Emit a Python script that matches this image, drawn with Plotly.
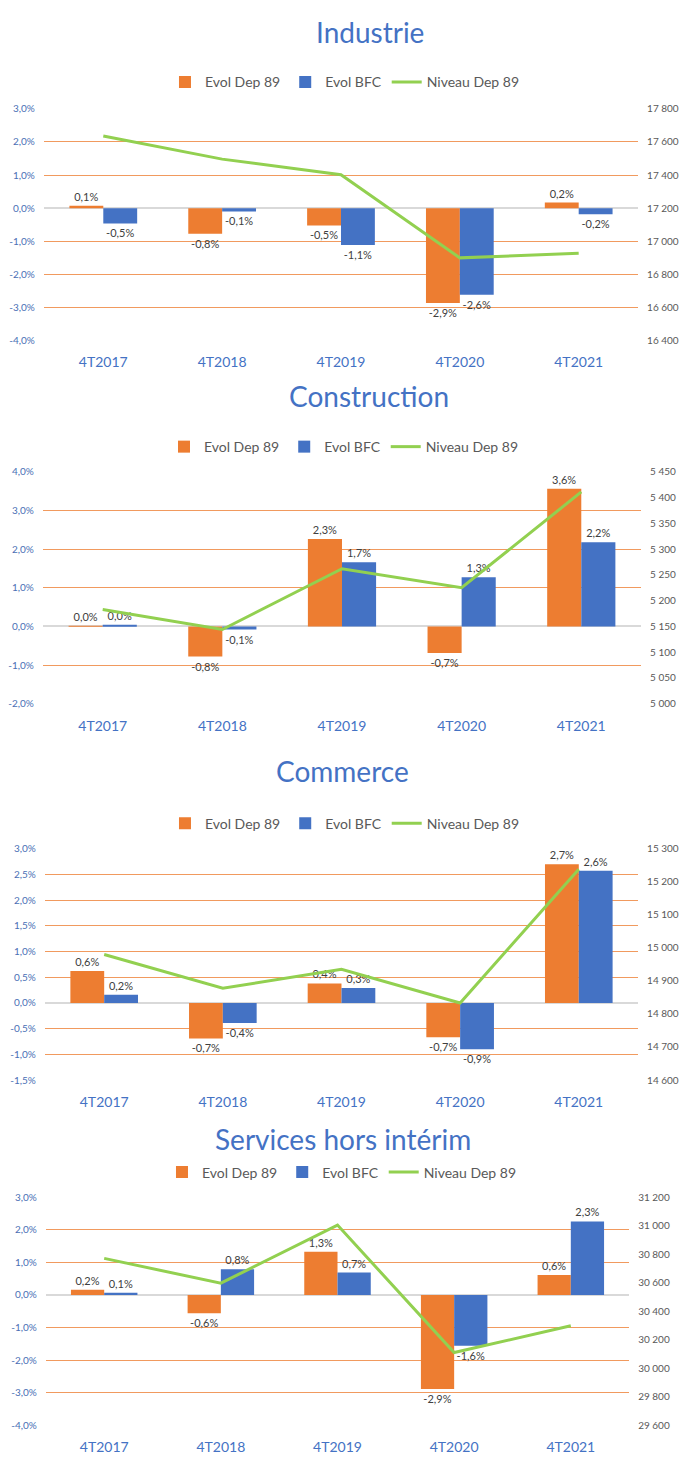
import plotly.graph_objects as go

# ---------------- data ----------------
categories = ["4T2017", "4T2018", "4T2019", "4T2020", "4T2021"]
titles = ["Industrie", "Construction", "Commerce", "Services hors intérim"]
series_names = ["Evol Dep 89", "Evol BFC", "Niveau Dep 89"]

industrie_dep89 = [0.07, -0.77, -0.52, -2.86, 0.17]
industrie_bfc = [-0.46, -0.10, -1.11, -2.61, -0.18]
industrie_niveau = [17636, 17496, 17402, 16900, 16928]

construction_dep89 = [0.003, -0.78, 2.26, -0.69, 3.56]
construction_bfc = [0.02, -0.08, 1.66, 1.27, 2.18]
construction_niveau = [5183, 5144, 5262, 5225, 5411]

commerce_dep89 = [0.62, -0.69, 0.38, -0.67, 2.70]
commerce_bfc = [0.16, -0.39, 0.29, -0.90, 2.57]
commerce_niveau = [14980, 14878, 14935, 14833, 15238]

services_dep89 = [0.16, -0.56, 1.33, -2.89, 0.61]
services_bfc = [0.07, 0.79, 0.69, -1.56, 2.26]
services_niveau = [30771, 30597, 31005, 30110, 30298]

industrie_pct_ticks = [-4, -3, -2, -1, 0, 1, 2, 3]
construction_pct_ticks = [-2, -1, 0, 1, 2, 3, 4]
commerce_pct_ticks = [-1.5, -1.0, -0.5, 0, 0.5, 1.0, 1.5, 2.0, 2.5, 3.0]
services_pct_ticks = [-4, -3, -2, -1, 0, 1, 2, 3]

industrie_level_ticks = [16400, 16600, 16800, 17000, 17200, 17400, 17600, 17800]
construction_level_ticks = [5000, 5050, 5100, 5150, 5200, 5250, 5300, 5350, 5400, 5450]
commerce_level_ticks = [14600, 14700, 14800, 14900, 15000, 15100, 15200, 15300]
services_level_ticks = [29600, 29800, 30000, 30200, 30400, 30600, 30800, 31000, 31200]

dep89_all = [industrie_dep89, construction_dep89, commerce_dep89, services_dep89]
bfc_all = [industrie_bfc, construction_bfc, commerce_bfc, services_bfc]
niveau_all = [industrie_niveau, construction_niveau, commerce_niveau, services_niveau]
pct_ticks_all = [industrie_pct_ticks, construction_pct_ticks, commerce_pct_ticks, services_pct_ticks]
level_ticks_all = [industrie_level_ticks, construction_level_ticks, commerce_level_ticks, services_level_ticks]

# ---------------- style / layout ----------------
W, H = 679, 1457
ORANGE = "#ED7D31"
BLUE = "#4472C4"
GREEN = "#92D050"
GRID = "#F19A5E"
FONT = "Lato, 'Open Sans', sans-serif"

# pixel geometry of each panel
geo = [
    dict(x0=44, x1=640, yt=102.7, yb=336.7, title_x=371, title_y=25, leg_x=346, leg_y=76),
    dict(x0=43, x1=643, yt=469.0, yb=703.0, title_x=370, title_y=393, leg_x=345, leg_y=444),
    dict(x0=45, x1=640, yt=849.3, yb=1082.7, title_x=344, title_y=771, leg_x=346, leg_y=824),
    dict(x0=46, x1=631, yt=1201.0, yb=1431.0, title_x=344, title_y=1142, leg_x=343, leg_y=1176),
]


def pct_label(v):
    return f"{v:.1f}".replace(".", ",") + "%"


def level_label(v):
    return f"{v:,}".replace(",", " ")


fig = go.Figure()
layout = dict(
    width=W, height=H, margin=dict(l=0, r=0, t=0, b=0),
    paper_bgcolor="white", plot_bgcolor="white",
    barmode="group", bargap=0.43, bargroupgap=0.0,
    font=dict(family=FONT, color="#595959"),
    annotations=[], showlegend=True,
)

for i in range(4):
    g = geo[i]
    xi = i + 1
    li = 2 * i + 1
    ri = 2 * i + 2
    xref = "x" if xi == 1 else f"x{xi}"
    lref = "y" if li == 1 else f"y{li}"
    rref = f"y{ri}"
    legref = "legend" if xi == 1 else f"legend{xi}"

    fig.add_trace(go.Bar(
        x=categories, y=dep89_all[i], name=series_names[0],
        marker=dict(color=ORANGE, line=dict(width=0)),
        text=[pct_label(v) for v in dep89_all[i]], textposition="outside",
        textangle=0, cliponaxis=False,
        textfont=dict(size=11, color="#404040", family=FONT),
        xaxis=xref, yaxis=lref, legend=legref,
    ))
    fig.add_trace(go.Bar(
        x=categories, y=bfc_all[i], name=series_names[1],
        marker=dict(color=BLUE, line=dict(width=0)),
        text=[pct_label(v) for v in bfc_all[i]], textposition="outside",
        textangle=0, cliponaxis=False,
        textfont=dict(size=11, color="#404040", family=FONT),
        xaxis=xref, yaxis=lref, legend=legref,
    ))
    fig.add_trace(go.Scatter(
        x=categories, y=niveau_all[i], name=series_names[2], mode="lines",
        line=dict(color=GREEN, width=3),
        xaxis=xref, yaxis=rref, legend=legref,
    ))

    xdom = [g["x0"] / W, g["x1"] / W]
    ydom = [1 - g["yb"] / H, 1 - g["yt"] / H]
    pt = pct_ticks_all[i]
    lt = level_ticks_all[i]

    layout["xaxis" if xi == 1 else f"xaxis{xi}"] = dict(
        domain=xdom, anchor=lref, type="category",
        showgrid=False, zeroline=False, showline=False,
        ticks="outside", ticklen=9, tickcolor="rgba(0,0,0,0)",
        tickfont=dict(size=14, color=BLUE, family=FONT),
    )
    layout["yaxis" if li == 1 else f"yaxis{li}"] = dict(
        domain=ydom, anchor=xref, range=[pt[0], pt[-1]],
        tickvals=pt, ticktext=[pct_label(v) for v in pt],
        showgrid=True, gridcolor=GRID, gridwidth=1.2,
        zeroline=True, zerolinecolor="#D9D9D9", zerolinewidth=1.5,
        showline=False, ticks="outside", ticklen=6, tickcolor="rgba(0,0,0,0)",
        tickfont=dict(size=10, color="#4A6FB5", family=FONT),
    )
    layout[f"yaxis{ri}"] = dict(
        overlaying=lref, side="right", anchor=xref,
        range=[lt[0], lt[-1]], tickvals=lt, ticktext=[level_label(v) for v in lt],
        showgrid=False, zeroline=False, showline=False,
        ticks="outside", ticklen=6, tickcolor="rgba(0,0,0,0)",
        tickfont=dict(size=10, color="#595959", family=FONT),
    )
    layout[legref] = dict(
        orientation="h", x=g["leg_x"] / W, xanchor="center",
        y=1 - g["leg_y"] / H, yanchor="middle",
        font=dict(size=14, color="#595959", family=FONT),
        bgcolor="rgba(0,0,0,0)", itemwidth=30, tracegroupgap=0,
    )
    layout["annotations"].append(dict(
        text=titles[i], xref="paper", yref="paper",
        x=g["title_x"] / W, y=1 - g["title_y"] / H,
        xanchor="center", yanchor="middle", showarrow=False,
        font=dict(size=28, color="#4472C4", family=FONT),
    ))

fig.update_layout(**layout)
fig.write_html(
    "out.html",
    config={"displayModeBar": False},
    post_script="document.body.style.margin='0';document.body.style.overflow='hidden';",
)
